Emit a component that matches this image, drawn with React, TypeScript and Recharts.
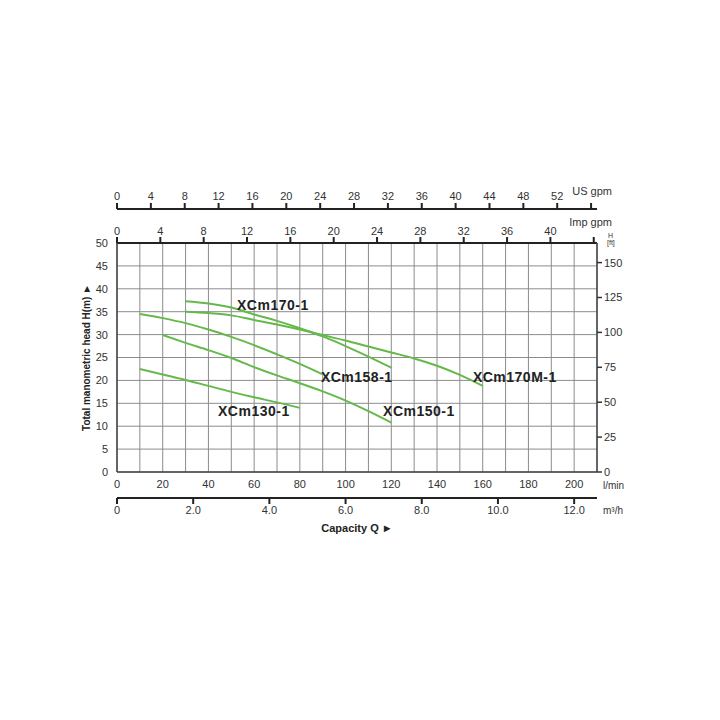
import { LineChart, Line, XAxis, YAxis, CartesianGrid, ReferenceDot } from 'recharts';

// flow in l/min, head in m
const xcm170Q = [30, 40, 50, 60, 70, 80, 90, 100, 110, 120];
const xcm170H = [37.3, 36.8, 35.9, 34.4, 33.0, 31.4, 29.6, 27.5, 25.2, 22.8];

const xcm170mQ = [30, 40, 50, 60, 70, 80, 90, 100, 110, 120, 130, 140, 150, 160];
const xcm170mH = [35.0, 34.7, 34.2, 33.2, 32.2, 31.1, 29.9, 28.7, 27.4, 26.1, 24.8, 23.2, 21.2, 18.8];

const xcm158Q = [10, 20, 30, 40, 50, 60, 70, 80, 90];
const xcm158H = [34.5, 33.6, 32.5, 31.1, 29.5, 27.7, 25.7, 23.6, 21.3];

const xcm150Q = [20, 30, 40, 50, 60, 70, 80, 90, 100, 110, 120];
const xcm150H = [29.9, 28.2, 26.6, 24.9, 22.9, 21.1, 19.4, 17.6, 15.6, 13.3, 10.8];

const xcm130Q = [10, 20, 30, 40, 50, 60, 70, 80];
const xcm130H = [22.5, 21.3, 20.1, 18.8, 17.5, 16.3, 15.2, 14.0];

const curveNames = ['XCm170-1', 'XCm170M-1', 'XCm158-1', 'XCm150-1', 'XCm130-1'];
// where each name sits (l/min, m)
const labelQ = [52.5, 155.7, 89.2, 116.4, 44.2];
const labelH = [36.5, 20.7, 20.7, 13.3, 13.3];

const lminTicks = [0, 10, 20, 30, 40, 50, 60, 70, 80, 90, 100, 110, 120, 130, 140, 150, 160, 170, 180, 190, 200, 210];
const m3hTicks = [0, 2, 4, 6, 8, 10, 12];
const usGpmTicks = [0, 4, 8, 12, 16, 20, 24, 28, 32, 36, 40, 44, 48, 52, 56];
const impGpmTicks = [0, 4, 8, 12, 16, 20, 24, 28, 32, 36, 40, 44];
const headTicks = [0, 5, 10, 15, 20, 25, 30, 35, 40, 45, 50];
const feetTicks = [0, 25, 50, 75, 100, 125, 150];

const GREEN = '#65b94a';

const toPoints = (q: number[], h: number[]) => q.map((v, i) => ({ q: v, h: h[i] }));

const series = [
  toPoints(xcm170Q, xcm170H),
  toPoints(xcm170mQ, xcm170mH),
  toPoints(xcm158Q, xcm158H),
  toPoints(xcm150Q, xcm150H),
  toPoints(xcm130Q, xcm130H),
];

// chart-level rows so the unit-conversion axes (no series of their own) still get a scale
const axisRows = lminTicks.map((q) => ({ q }));

const tickStyle = { fill: '#333', fontSize: 11 };

export default function App() {
  return (
    <div style={{ position: 'absolute', left: 0, top: 0, width: 720, height: 720, background: '#fff', fontFamily: 'Arial, "Liberation Sans", sans-serif' }}>
      <LineChart width={720} height={720} data={axisRows} margin={{ top: 179, right: 83, bottom: 182, left: 68 }}>
        <CartesianGrid xAxisId="lmin" yAxisId="m" stroke="#8c8c8c" strokeWidth={1} />

        <XAxis
          xAxisId="lmin"
          dataKey="q"
          type="number"
          domain={[0, 210]}
          allowDataOverflow
          ticks={lminTicks}
          interval={0}
          tickFormatter={(v: number) => (v % 20 === 0 && v < 210 ? String(v) : '')}
          height={26}
          tickLine={false}
          tickSize={0}
          tickMargin={8}
          axisLine={{ stroke: '#444', strokeWidth: 1.5 }}
          tick={tickStyle}
          label={({ viewBox }: any) => (
            <text x={viewBox.x + viewBox.width + 6} y={viewBox.y + 17} fontSize={10} fill="#333">l/min</text>
          )}
        />
        <XAxis
          xAxisId="m3h"
          dataKey="q"
          type="number"
          domain={[0, 12.6]}
          allowDataOverflow
          ticks={m3hTicks}
          interval={0}
          tickFormatter={(v: number) => (v === 0 ? '0' : v.toFixed(1))}
          height={40}
          tickSize={6}
          tickMargin={2}
          tickLine={{ stroke: '#222', strokeWidth: 2 }}
          axisLine={{ stroke: '#222', strokeWidth: 2 }}
          tick={tickStyle}
          label={({ viewBox }: any) => (
            <g>
              <text x={viewBox.x + viewBox.width + 6} y={viewBox.y + 16} fontSize={10} fill="#333">m³/h</text>
              <text x={viewBox.x + viewBox.width / 2} y={viewBox.y + 34} fontSize={11} fontWeight={700} fill="#222" textAnchor="middle">Capacity Q ►</text>
            </g>
          )}
        />
        <XAxis
          xAxisId="imp"
          dataKey="q"
          orientation="top"
          type="number"
          domain={[0, 44.3]}
          allowDataOverflow
          ticks={impGpmTicks}
          interval={0}
          tickFormatter={(v: number) => (v === 44 ? '' : String(v))}
          height={34}
          tickSize={6}
          tickMargin={2}
          tickLine={{ stroke: '#222', strokeWidth: 2 }}
          axisLine={{ stroke: '#222', strokeWidth: 2 }}
          tick={tickStyle}
          label={({ viewBox }: any) => (
            <text x={viewBox.x + viewBox.width + 15} y={viewBox.y + 17} fontSize={11} fill="#333" textAnchor="end">Imp gpm</text>
          )}
        />
        <XAxis
          xAxisId="us"
          dataKey="q"
          orientation="top"
          type="number"
          domain={[0, 56.7]}
          allowDataOverflow
          ticks={usGpmTicks}
          interval={0}
          tickFormatter={(v: number) => (v === 56 ? '' : String(v))}
          height={30}
          tickSize={6}
          tickMargin={3}
          tickLine={{ stroke: '#222', strokeWidth: 2 }}
          axisLine={{ stroke: '#222', strokeWidth: 2 }}
          tick={tickStyle}
          label={({ viewBox }: any) => (
            <text x={viewBox.x + viewBox.width + 15} y={viewBox.y + 16} fontSize={11} fill="#333" textAnchor="end">US gpm</text>
          )}
        />

        <YAxis
          yAxisId="m"
          type="number"
          domain={[0, 50]}
          allowDataOverflow
          ticks={headTicks}
          interval={0}
          width={49}
          tickLine={false}
          tickSize={0}
          tickMargin={9}
          axisLine={{ stroke: '#444', strokeWidth: 1.5 }}
          tick={tickStyle}
          label={({ viewBox }: any) => {
            const cx = viewBox.x + 18;
            const cy = viewBox.y + viewBox.height / 2;
            return (
              <text x={cx} y={cy} transform={`rotate(-90 ${cx} ${cy})`} textAnchor="middle" dominantBaseline="central" fontSize={10} fontWeight={700} fill="#222">
                Total manometric head H(m) ►
              </text>
            );
          }}
        />
        <YAxis
          yAxisId="ft"
          orientation="right"
          type="number"
          domain={[0, 164.04]}
          allowDataOverflow
          ticks={feetTicks}
          interval={0}
          width={40}
          tickSize={5}
          tickMargin={2}
          tickLine={{ stroke: '#333', strokeWidth: 1.5 }}
          axisLine={{ stroke: '#444', strokeWidth: 1.5 }}
          tick={tickStyle}
          label={({ viewBox }: any) => (
            <g>
              <text x={viewBox.x + 11} y={viewBox.y - 5} fontSize={7} fill="#333">H</text>
              <text x={viewBox.x + 10} y={viewBox.y + 2} fontSize={7} fill="#333">[ft]</text>
            </g>
          )}
        />

        {series.map((pts, i) => (
          <Line
            key={curveNames[i]}
            data={pts}
            dataKey="h"
            xAxisId="lmin"
            yAxisId="m"
            type="monotone"
            stroke={GREEN}
            strokeWidth={2}
            dot={false}
            isAnimationActive={false}
          />
        ))}

        {curveNames.map((name, i) => (
          <ReferenceDot
            key={`lbl-${name}`}
            xAxisId="lmin"
            yAxisId="m"
            x={labelQ[i]}
            y={labelH[i]}
            r={0}
            fill="none"
            stroke="none"
            label={{ value: name, position: 'right', offset: 0, fill: '#222', fontSize: 14, fontWeight: 700, letterSpacing: 0.5 }}
          />
        ))}
      </LineChart>
    </div>
  );
}
